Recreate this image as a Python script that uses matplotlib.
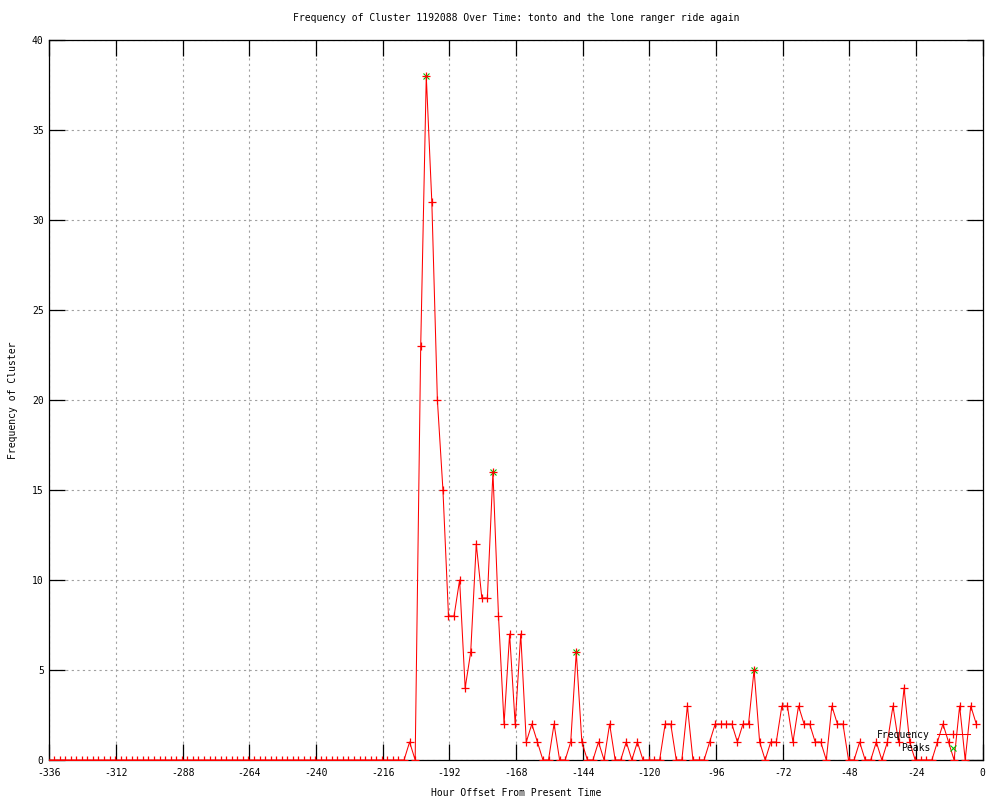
import numpy as np
import matplotlib
matplotlib.use("Agg")
import matplotlib.pyplot as plt
from matplotlib.lines import Line2D

# ---- data ----
title = "Frequency of Cluster 1192088 Over Time: tonto and the lone ranger ride again"
xlabel = "Hour Offset From Present Time"
ylabel = "Frequency of Cluster"

frequency = [
    0, 0, 0, 0, 0, 0, 0, 0, 0, 0, 0, 0, 0, 0, 0, 0, 0, 0, 0, 0,
    0, 0, 0, 0, 0, 0, 0, 0, 0, 0, 0, 0, 0, 0, 0, 0, 0, 0, 0, 0,
    0, 0, 0, 0, 0, 0, 0, 0, 0, 0, 0, 0, 0, 0, 0, 0, 0, 0, 0, 0,
    0, 0, 0, 0, 0, 1, 0, 23, 38, 31, 20, 15, 8, 8, 10, 4, 6, 12, 9, 9,
    16, 8, 2, 7, 2, 7, 1, 2, 1, 0, 0, 2, 0, 0, 1, 6, 1, 0, 0, 1,
    0, 2, 0, 0, 1, 0, 1, 0, 0, 0, 0, 2, 2, 0, 0, 3, 0, 0, 0, 1,
    2, 2, 2, 2, 1, 2, 2, 5, 1, 0, 1, 1, 3, 3, 1, 3, 2, 2, 1, 1,
    0, 3, 2, 2, 0, 0, 1, 0, 0, 1, 0, 1, 3, 1, 4, 1, 0, 0, 0, 0,
    1, 2, 1, 0, 3, 0, 3, 2,
]
start_hour = -336.3
step_hours = 2.0
hours = start_hour + step_hours * np.arange(len(frequency))

peak_index = [68, 80, 95, 127]
peak_hours = hours[peak_index]
peak_values = [frequency[i] for i in peak_index]

xticks = list(range(-336, 1, 24))
yticks = list(range(0, 41, 5))

# ---- style ----
plt.rcParams['font.family'] = ['DejaVu Sans Mono']
plt.rcParams['axes.unicode_minus'] = False
FS = 7

fig = plt.figure(figsize=(10, 8), dpi=100)
ax = fig.add_axes([0.0493, 0.05, 0.9334, 0.90])

ax.plot(peak_hours, peak_values, linestyle='none', marker='x', color='#00c000',
        markersize=4.5, markeredgewidth=0.8, zorder=3)
ax.plot(hours, frequency, color='#ff0000', linewidth=0.75, marker='+',
        markersize=5.2, markeredgewidth=0.9, zorder=4, clip_on=True)

ax.set_xlim(-336, 0)
ax.set_ylim(0, 40)
ax.set_xticks(xticks)
ax.set_yticks(yticks)
ax.set_xticklabels([str(t) for t in xticks], fontsize=FS)
ax.set_yticklabels([str(t) for t in yticks], fontsize=FS)
ax.tick_params(direction='in', length=11.5, width=0.9, top=True, right=True,
               colors='black')
ax.tick_params(axis='x', pad=6)
ax.tick_params(axis='y', pad=4)

ax.grid(True, color='#a0a0a0', linestyle=(0, (2, 3)), linewidth=0.8)
ax.set_axisbelow(True)
for s in ax.spines.values():
    s.set_linewidth(0.9)
    s.set_color('black')

fig.text(0.516, 1 - 18 / 800, title, ha='center', va='center', fontsize=FS)
fig.text(0.516, 1 - 793 / 800, xlabel, ha='center', va='center', fontsize=FS)
fig.text(0.013, 0.5, ylabel, ha='center', va='center', rotation=90, fontsize=FS)

handles = [
    Line2D([0], [0], color='#ff0000', linewidth=0.75, marker='+', markersize=5.2,
           markeredgewidth=0.9),
    Line2D([0], [0], color='#00c000', linestyle='none', marker='x', markersize=4.5,
           markeredgewidth=0.8),
]
ax.legend(handles, ["Frequency", "Peaks"], loc='lower right',
          bbox_to_anchor=(970 / 1000, 1 - 753 / 800), bbox_transform=fig.transFigure,
          frameon=False, markerfirst=False, fontsize=FS, handlelength=3.4,
          handletextpad=0.7, labelspacing=0.35, borderpad=0, borderaxespad=0)

fig.savefig("out.png", dpi=100)
